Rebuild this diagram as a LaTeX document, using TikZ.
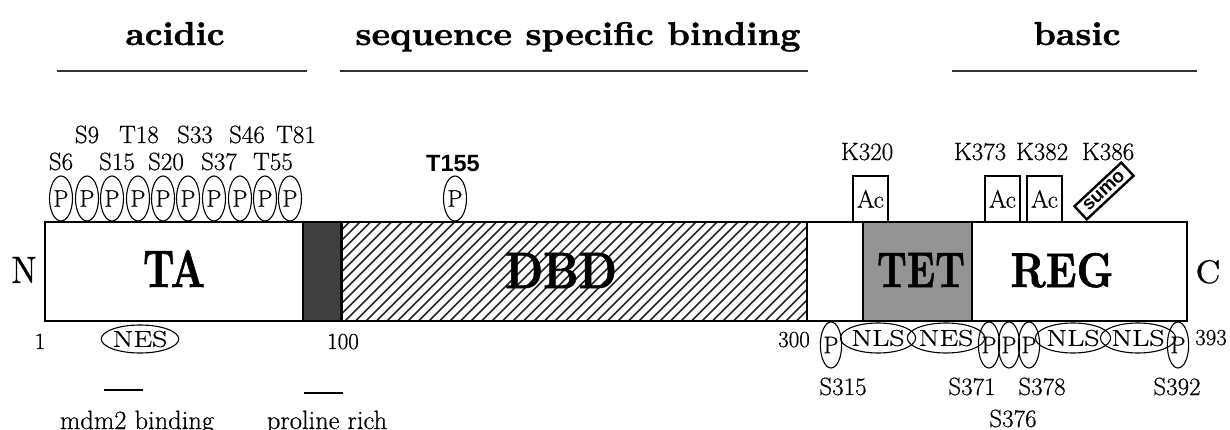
\documentclass[tikz,border=0pt]{standalone}
\usepackage{graphicx}
\usepackage{fontspec}
\setmainfont{Latin Modern Roman}[UprightFeatures={FakeBold=0.6},BoldFeatures={FakeBold=1.2}]
\newfontfamily\sansfam{Liberation Sans}
\usetikzlibrary{shapes.geometric}
\newcommand\setfs[1]{\fontsize{#1}{#1}\selectfont}
\newcommand\sansbf{\sansfam\bfseries}
\newcommand\fitbox[3]{\resizebox{#1pt}{#2pt}{#3}}
\newcommand\widen[1]{\scalebox{1.3}[1]{#1}}
\begin{document}
\begin{tikzpicture}[x=1pt,y=-1pt,
  head/.style={anchor=base,inner sep=0pt},
  headline/.style={line width=2pt,draw=black!80},
  dlabel/.style={anchor=base,inner sep=0pt},
  site/.style={anchor=base,font=\setfs{25}},
  num/.style={anchor=base,font=\setfs{23}},
  phos/.style={ellipse,draw,line width=1.1pt,minimum width=23,minimum height=45,inner sep=0pt,font=\setfs{24}},
  phosb/.style={ellipse,draw,line width=1.1pt,minimum width=21,minimum height=46,inner sep=0pt,font=\setfs{24}},
  signal/.style={ellipse,draw,line width=1.1pt,minimum width=67,minimum height=30,inner sep=0pt,font=\setfs{23}},
  acbox/.style={draw,line width=1.1pt,minimum width=35,minimum height=46,inner sep=0pt,font=\setfs{25}},
  region/.style={line width=1.5pt},
  bar/.style={line width=1.2pt}]
\useasboundingbox (0,0) rectangle (1230,430);
\clip (0,0) rectangle (1230,430);

% functional regions along the top
\node[head] (acidic) at (175,45) {\fitbox{99}{23}{\bfseries acidic}};
\node[head] (ssb) at (578,45) {\fitbox{445}{23}{\bfseries sequence specific binding}};
\node[head] (basic) at (1077,45) {\fitbox{87}{23}{\bfseries basic}};
\draw[headline] (57,71) -- (307,71);
\draw[headline] (340,71) -- (808,71);
\draw[headline] (952,71) -- (1197,71);

% protein bar: domains
\fill[black!75] (303,222) rectangle (343,321);
\begin{scope}
  \clip (343,222) rectangle (807,321);
  \foreach \i in {240,250.5,...,815}
    \draw[line width=1.6pt,black!85] (\i,321) -- (\i+99,222);
\end{scope}
\fill[black!42] (863,222) rectangle (972,321);
\draw[bar] (45,222) rectangle (1187,321);
\draw[bar] (303,222) -- (303,321);
\draw[line width=3pt] (341.5,222) -- (341.5,321);
\draw[bar] (807,222) -- (807,321);
\draw[bar] (863,222) -- (863,321);
\draw[bar] (972,222) -- (972,321);

\node[dlabel] (ta)  at (174,287) {\fitbox{62}{37}{\bfseries TA}};
\node[dlabel] (dbd) at (561,288) {\fitbox{112}{35}{\bfseries DBD}};
\node[dlabel] (tet) at (921,287) {\fitbox{88}{34}{\bfseries TET}};
\node[dlabel] (reg) at (1062,287) {\fitbox{103}{34}{\bfseries REG}};
\node[dlabel] (nterm) at (24,283) {\fitbox{25}{26}{N}};
\node[dlabel] (cterm) at (1208,283) {\fitbox{25}{23}{C}};

% N-terminal phosphorylation sites
\foreach \x [count=\k] in {61,87,112,138,163,188,214,240,265,290}
  \node[phos] (p\k) at (\x,198.5) {P};
\node[site] (s6)  at (61,170)  {S6};
\node[site] (s15) at (117,170) {S15};
\node[site] (s20) at (166,170) {S20};
\node[site] (s37) at (219,170) {S37};
\node[site] (t55) at (273,170) {T55};
\node[site] (s9)  at (87,143)  {S9};
\node[site] (t18) at (139,143) {T18};
\node[site] (s33) at (195,143) {S33};
\node[site] (s46) at (247,143) {S46};
\node[site] (t81) at (296,143) {T81};

\node[phos] (p155) at (455,198.5) {P};
\node[anchor=base,font=\sansbf\setfs{23.5}] (t155) at (453,172) {T155};

% acetylation and sumoylation
\node[acbox] (ac320) at (870.5,199) {Ac};
\node[acbox] (ac373) at (1002.5,199) {Ac};
\node[acbox] (ac382) at (1044.5,199) {Ac};
\node[site] (k320) at (867,160) {K320};
\node[site] (k373) at (980,160) {K373};
\node[site] (k382) at (1042,160) {K382};
\node[site] (k386) at (1108,160) {K386};
\node[draw,line width=2.4pt,rotate=43,minimum width=64,minimum height=18,inner sep=0pt,
      font=\sansbf\setfs{19}] (sumo) at (1104,191) {sumo};

% residue numbers
\node[num] (n1)   at (40,349)   {1};
\node[num] (n100) at (343,349)  {100};
\node[num] (n300) at (794,347)  {300};
\node[num] (n393) at (1211,345) {393};

% signals below the bar
\node[signal,minimum width=74,minimum height=28] (nes1) at (140,339) {\widen{NES}};
\node[phosb] (p315) at (831,345) {P};
\node[signal] (nls1) at (878,338) {\widen{NLS}};
\node[signal] (nes2) at (946,338) {\widen{NES}};
\node[phosb] (p371) at (989,345) {P};
\node[phosb] (p376) at (1009,345) {P};
\node[phosb] (p378) at (1029,345) {P};
\node[signal] (nls2) at (1073,338) {\widen{NLS}};
\node[signal] (nls3) at (1138,338) {\widen{NLS}};
\node[phosb] (p392) at (1178,345) {P};
\node[site] (s315) at (843,395)  {S315};
\node[site] (s371) at (972,395)  {S371};
\node[site] (s378) at (1042,395) {S378};
\node[site] (s392) at (1177,395) {S392};
\node[site] (s376) at (1013,427) {S376};

% motifs
\draw[region] (104,390) -- (143,390);
\draw[region] (304,393) -- (343,393);
\node[anchor=base,font=\setfs{26.5}] (mdm2) at (137,429) {mdm2 binding};
\node[anchor=base,font=\setfs{26.5}] (pro) at (327,429) {proline rich};
\end{tikzpicture}
\end{document}
